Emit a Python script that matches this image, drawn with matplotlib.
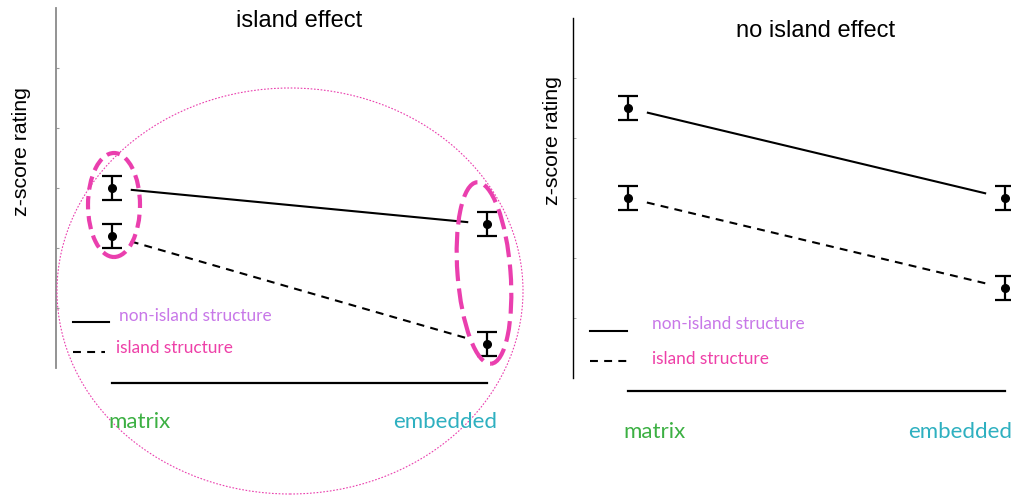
import matplotlib
matplotlib.use("Agg")
import matplotlib.pyplot as plt
from matplotlib.patches import Ellipse
from matplotlib.lines import Line2D
from matplotlib.transforms import IdentityTransform

# ---------------- data ----------------
categories = ["matrix", "embedded"]
cat_pos = [0, 1]
series_names = ["non-island structure", "island structure"]
ylabel_text = "z-score rating"
ytick_values = [1, 2, 3, 4, 5]

left_title = "island effect"
left_nonisland = [3.0, 2.4]
left_island = [2.2, 0.4]
left_err = [0.2, 0.2]

right_title = "no island effect"
right_nonisland = [4.5, 3.0]
right_island = [3.0, 1.5]
right_err = [0.2, 0.2]

# ---------------- styles ----------------
W, H, DPI = 1011, 496, 100
PURPLE = "#c878e8"
PINK = "#ee40a8"
GREEN = "#3cb043"
TEAL = "#2eb0c0"
MAG = "#ea3fae"
TITLE_FONT = ["Liberation Sans", "DejaVu Sans"]
BODY_FONT = ["Lato", "DejaVu Sans"]
DASH = (0, (3.8, 3.0))

fig = plt.figure(figsize=(W / DPI, H / DPI), dpi=DPI)
ID = IdentityTransform()


def P(x, y):
    """top-left pixel coords -> display coords"""
    return x, H - y


def make_axes(x0, x1, ytop, ybot, xmatrix, scale):
    ax = fig.add_axes([x0 / W, (H - ybot) / H, (x1 - x0) / W, (ybot - ytop) / H])
    ax.set_xlim((x0 - xmatrix) / scale, (x1 - xmatrix) / scale)
    ax.set_ylim(0, 6)
    ax.patch.set_alpha(0)
    for s in ["top", "right", "bottom"]:
        ax.spines[s].set_visible(False)
    ax.set_xticks([])
    ax.set_yticks(ytick_values)
    ax.set_yticklabels([])
    return ax


def seg(vals, f0=0.05, f1=0.95):
    xs = [cat_pos[0] + (cat_pos[1] - cat_pos[0]) * f for f in (f0, f1)]
    ys = [vals[0] + (vals[1] - vals[0]) * f for f in (f0, f1)]
    return xs, ys


def draw_panel(ax, nonisland, island, err, base_y):
    for vals in (nonisland, island):
        c = ax.errorbar(cat_pos, vals, yerr=err, fmt="o", color="black", ms=5.5,
                        capsize=7.5, capthick=1.6, elinewidth=1.6)
        for a in c.get_children():
            a.set_clip_on(False)
    xs, ys = seg(nonisland)
    ax.plot(xs, ys, color="black", lw=1.5, solid_capstyle="butt", clip_on=False)
    xs, ys = seg(island)
    ax.plot(xs, ys, color="black", lw=1.5, ls=DASH, clip_on=False)
    ax.plot(cat_pos, [base_y, base_y], color="black", lw=1.6, clip_on=False)


# left panel
ax1 = make_axes(56, 520, 8, 368, 112, 375)
ax1.spines["left"].set_color("#8a8a8a")
ax1.spines["left"].set_linewidth(1.3)
ax1.tick_params(axis="y", direction="in", length=2, width=0.8, color="#9a9a9a")
draw_panel(ax1, left_nonisland, left_island, left_err, -0.25)

# right panel
ax2 = make_axes(573, 1011, 18, 378, 628, 377)
ax2.spines["left"].set_color("black")
ax2.spines["left"].set_linewidth(1.0)
ax2.tick_params(axis="y", direction="in", length=2, width=0.6, color="#999999")
draw_panel(ax2, right_nonisland, right_island, right_err, -0.22)

# titles & y labels
fig.text(*P(299, 21), left_title, transform=ID, ha="center", va="center",
         fontsize=17, family=TITLE_FONT)
fig.text(*P(816, 31), right_title, transform=ID, ha="center", va="center",
         fontsize=17, family=TITLE_FONT)
fig.text(*P(22, 152), ylabel_text, transform=ID, ha="center", va="center",
         rotation=90, fontsize=15.3, family=TITLE_FONT)
fig.text(*P(553, 141), ylabel_text, transform=ID, ha="center", va="center",
         rotation=90, fontsize=15.3, family=TITLE_FONT)

# category labels
for (x, y, txt, col) in [(108, 422, categories[0], GREEN), (393, 422, categories[1], TEAL),
                         (623, 432, categories[0], GREEN), (908, 432, categories[1], TEAL)]:
    fig.text(*P(x, y), txt, transform=ID, ha="left", va="center", color=col,
             fontsize=16, family=BODY_FONT)

# legends
def legend(xl0, xl1, ys, yd, xd1, xt_s, yt_s, xt_d, yt_d):
    fig.add_artist(Line2D([xl0, xl1], [H - ys, H - ys], transform=ID, color="black", lw=1.5))
    fig.add_artist(Line2D([xl0, xd1], [H - yd, H - yd], transform=ID, color="black", lw=1.5,
                          ls=DASH))
    fig.text(*P(xt_s, yt_s), series_names[0], transform=ID, ha="left", va="center",
             color=PURPLE, fontsize=12.4, family=BODY_FONT)
    fig.text(*P(xt_d, yt_d), series_names[1], transform=ID, ha="left", va="center",
             color=PINK, fontsize=12.4, family=BODY_FONT)

legend(73, 109, 322, 352, 105, 119, 316, 116, 348)
legend(590, 627, 331, 361, 630, 652, 324, 652, 359)

# highlight ellipses (annotations)
fig.add_artist(Ellipse(P(114, 205), 52, 104, angle=0, transform=ID, fill=False,
                       edgecolor=MAG, lw=3.0, ls=(0, (3.2, 1.6))))
fig.add_artist(Ellipse(P(484, 273), 53, 182, angle=4.4, transform=ID, fill=False,
                       edgecolor=MAG, lw=3.0, ls=(0, (5.0, 1.8))))
fig.add_artist(Ellipse(P(290, 291), 466, 406, angle=0, transform=ID, fill=False,
                       edgecolor=MAG, lw=0.8, ls=(0, (1.5, 1.5))))

fig.savefig("out.png", dpi=DPI)
